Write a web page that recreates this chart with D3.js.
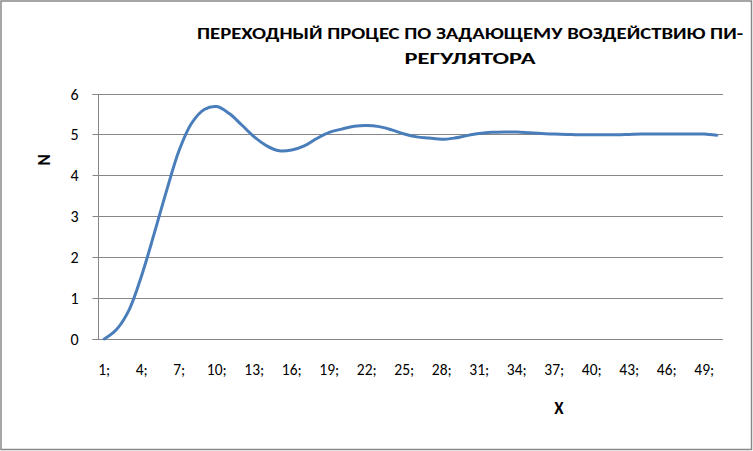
<!DOCTYPE html>
<html>
<head>
<meta charset="utf-8">
<script src="https://cdn.jsdelivr.net/npm/d3@7"></script>
<style>
  html, body { margin: 0; padding: 0; background: #fff; }
  svg { display: block; }
</style>
</head>
<body>
<svg id="chart" width="753" height="451"></svg>
<script>
const titleLines = ["ПЕРЕХОДНЫЙ ПРОЦЕС ПО ЗАДАЮЩЕМУ ВОЗДЕЙСТВИЮ ПИ-", "РЕГУЛЯТОРА"];
const xTitle = "X";
const yTitle = "N";
const categories = d3.range(1, 51).map(String);
const values = [
  0.00, 0.24, 0.72, 1.56, 2.58, 3.64, 4.62, 5.28, 5.61, 5.68,
  5.51, 5.23, 4.94, 4.72, 4.60, 4.62, 4.72, 4.90, 5.05, 5.13,
  5.20, 5.22, 5.19, 5.11, 5.01, 4.94, 4.91, 4.88, 4.91, 4.97,
  5.02, 5.05, 5.06, 5.06, 5.04, 5.02, 5.01, 5.00, 4.99, 4.99,
  4.99, 4.99, 5.00, 5.01, 5.01, 5.01, 5.01, 5.01, 5.01, 4.98
];
const yTicks = [0, 1, 2, 3, 4, 5, 6];

const FONT = "Carlito, 'Liberation Sans Narrow', 'Open Sans', 'Liberation Sans', Arial, sans-serif";

const svg = d3.select("#chart");
const W = 753, H = 451;
const plot = { left: 98, right: 723, top: 93.5, bottom: 339 };

svg.append("rect")
  .attr("x", 1).attr("y", 1).attr("width", W - 2.5).attr("height", H - 2.5)
  .attr("fill", "#fff").attr("stroke", "#888").attr("stroke-width", 1.5);

const x = d3.scaleBand().domain(categories).range([plot.left, plot.right]);
const y = d3.scaleLinear().domain([0, 6]).range([plot.bottom, plot.top]);

// gridlines
svg.append("g")
  .selectAll("line").data(yTicks).join("line")
  .attr("x1", plot.left).attr("x2", plot.right)
  .attr("y1", d => Math.round(y(d)) + 0.5).attr("y2", d => Math.round(y(d)) + 0.5)
  .attr("stroke", "#868686").attr("stroke-width", 1);

// y axis
const yAxis = svg.append("g")
  .attr("transform", `translate(${plot.left + 0.5},0)`)
  .call(d3.axisLeft(y).tickValues(yTicks).tickSize(6).tickPadding(14).tickFormat(d3.format("d")));
yAxis.select(".domain").attr("stroke", "#868686").attr("d", `M-6,${Math.round(y(6))+0.5}H0V${Math.round(y(0))+0.5}H-6`);
yAxis.selectAll(".tick line").attr("stroke", "#868686");
yAxis.selectAll(".tick").attr("transform", d => `translate(0,${Math.round(y(d)) + 0.5})`);
yAxis.selectAll("text")
  .attr("font-family", FONT).attr("font-size", 16)
  .attr("fill", "#000");

// x axis labels
const xAxis = svg.append("g")
  .attr("transform", `translate(0,${plot.bottom})`)
  .call(d3.axisBottom(x)
    .tickValues(categories.filter((d, i) => i % 3 === 0))
    .tickSize(0).tickPadding(25)
    .tickFormat(d => d + ";"));
xAxis.select(".domain").remove();
xAxis.selectAll("text")
  .attr("font-family", FONT).attr("font-size", 15.5)
  .attr("fill", "#000");

// line
const line = d3.line()
  .x((d, i) => x(categories[i]) + x.bandwidth() / 2)
  .y(d => y(d))
  .curve(d3.curveCatmullRom.alpha(0.5));
svg.append("path")
  .datum(values)
  .attr("d", line)
  .attr("fill", "none")
  .attr("stroke", "#4a7ebb")
  .attr("stroke-width", 3)
  .attr("stroke-linejoin", "round")
  .attr("stroke-linecap", "round");

// title
const t = svg.append("text")
  .attr("font-family", FONT)
  .attr("font-weight", "bold").attr("font-size", 15.5)
  .attr("text-anchor", "middle").attr("fill", "#000");
t.append("tspan").attr("x", 470).attr("y", 39).text(titleLines[0])
  .attr("textLength", 546).attr("lengthAdjust", "spacingAndGlyphs");
t.append("tspan").attr("x", 470).attr("y", 64).text(titleLines[1])
  .attr("textLength", 131).attr("lengthAdjust", "spacingAndGlyphs");

// axis titles
svg.append("text")
  .attr("x", 559).attr("y", 414)
  .attr("font-family", FONT)
  .attr("font-weight", "bold").attr("font-size", 17)
  .attr("text-anchor", "middle").attr("fill", "#000")
  .text(xTitle);
svg.append("text")
  .attr("transform", "translate(50,160) rotate(-90)")
  .attr("font-family", FONT)
  .attr("font-weight", "bold").attr("font-size", 17)
  .attr("text-anchor", "middle").attr("fill", "#000")
  .text(yTitle);
</script>
</body>
</html>
